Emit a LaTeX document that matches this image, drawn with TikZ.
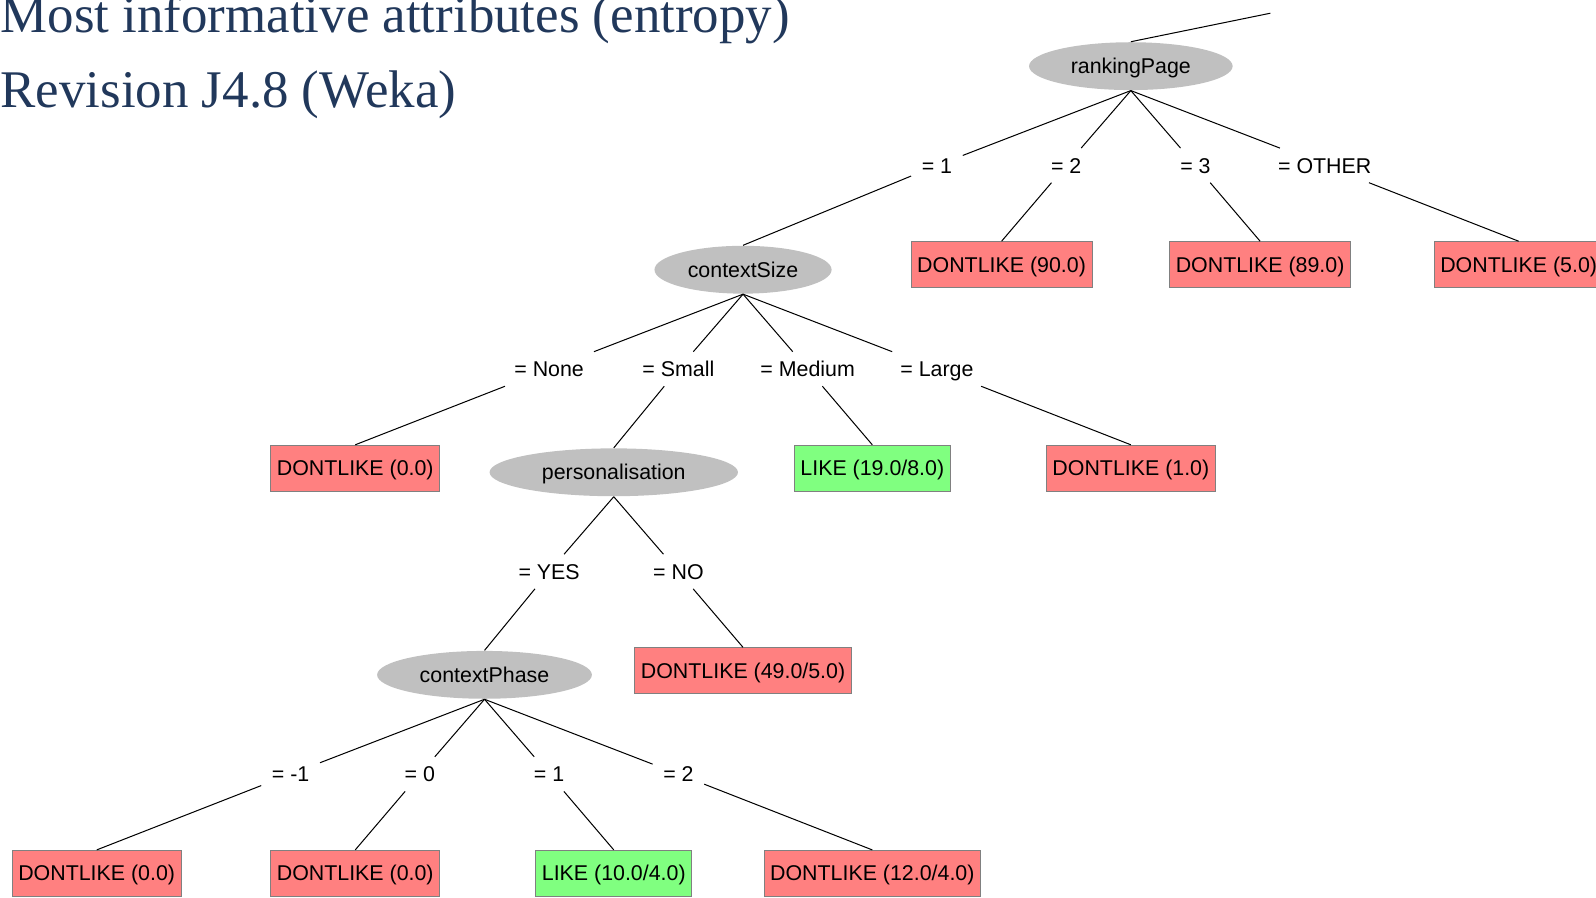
\documentclass[tikz,border=0pt]{standalone}
\usepackage{fontspec}
\setmainfont{Liberation Sans}
\newfontfamily\titlefont{Liberation Serif}
\usetikzlibrary{positioning,calc,shapes.geometric}
\definecolor{splitgray}{RGB}{192,192,192}
\definecolor{dontlikered}{RGB}{255,128,128}
\definecolor{likegreen}{RGB}{128,255,128}
\definecolor{titleblue}{RGB}{33,56,91}
\tikzset{
    tree text/.style = {
        font = \fontsize{21}{25}\selectfont,
        text height = 15pt,
        text depth = 0pt,
        },
    split node/.style = {
        tree text,
        ellipse,
        fill = splitgray,
        inner sep = 0pt,
        minimum height = 47pt,
        minimum width = #1,
        },
    leaf node/.style = {
        tree text,
        draw = gray,
        inner xsep = 6pt,
        minimum height = 45pt,
        },
    dontlike leaf/.style = {
        leaf node,
        fill = dontlikered,
        },
    like leaf/.style = {
        leaf node,
        fill = likegreen,
        },
    branch label/.style = {
        tree text,
        inner xsep = 10pt,
        inner ysep = 9pt,
        },
    title text/.style = {
        font = \titlefont\fontsize{52}{60}\selectfont,
        text = titleblue,
        anchor = base west,
        inner sep = 0pt,
        },
}

\begin{document}
\begin{tikzpicture}[x=1pt, y=-1pt, line width=1pt, on grid]
            \useasboundingbox (0,0) rectangle (1568,882);

            \node[title text] (title1) at (0,32) {Most informative attributes (entropy)};
            \node[title text] (title2) at (0,106) {Revision J4.8 (Weka)};

            % rankingPage
            \node[split node=200pt] (rank) at (1111,65) {rankingPage};
            \coordinate (up) at (1248,13);
            \node[split node=174pt, below left=200pt and 381pt of rank] (csize) {contextSize};
            \node[dontlike leaf, below left=195pt and 127pt of rank] (r2) {DONTLIKE (90.0)};
            \node[dontlike leaf, below right=195pt and 127pt of rank] (r3) {DONTLIKE (89.0)};
            \node[dontlike leaf, below right=195pt and 381pt of rank] (r4) {DONTLIKE (5.0)};

            % contextSize
            \node[dontlike leaf, below left=195pt and 381pt of csize] (s1) {DONTLIKE (0.0)};
            \node[split node=244pt, below left=199pt and 127pt of csize] (pers) {personalisation};
            \node[like leaf, below right=195pt and 127pt of csize] (s3) {LIKE (19.0/8.0)};
            \node[dontlike leaf, below right=195pt and 381pt of csize] (s4) {DONTLIKE (1.0)};

            % personalisation
            \node[split node=211pt, below left=199pt and 127pt of pers] (cphase) {contextPhase};
            \node[dontlike leaf, below right=195pt and 127pt of pers] (p2) {DONTLIKE (49.0/5.0)};

            % contextPhase
            \node[dontlike leaf, below left=195pt and 381pt of cphase] (c1) {DONTLIKE (0.0)};
            \node[dontlike leaf, below left=195pt and 127pt of cphase] (c2) {DONTLIKE (0.0)};
            \node[like leaf, below right=195pt and 127pt of cphase] (c3) {LIKE (10.0/4.0)};
            \node[dontlike leaf, below right=195pt and 381pt of cphase] (c4) {DONTLIKE (12.0/4.0)};

            % branch labels
            \node[branch label, yshift=2.5pt] (b-r1) at ($(rank)!0.5!(csize)$) {= 1};
            \node[branch label] (b-r2) at ($(rank)!0.5!(r2)$) {= 2};
            \node[branch label] (b-r3) at ($(rank)!0.5!(r3)$) {= 3};
            \node[branch label] (b-r4) at ($(rank)!0.5!(r4)$) {= OTHER};
            \node[branch label] (b-s1) at ($(csize)!0.5!(s1)$) {= None};
            \node[branch label, yshift=2pt] (b-s2) at ($(csize)!0.5!(pers)$) {= Small};
            \node[branch label] (b-s3) at ($(csize)!0.5!(s3)$) {= Medium};
            \node[branch label] (b-s4) at ($(csize)!0.5!(s4)$) {= Large};
            \node[branch label, yshift=2pt] (b-p1) at ($(pers)!0.5!(cphase)$) {= YES};
            \node[branch label] (b-p2) at ($(pers)!0.5!(p2)$) {= NO};
            \node[branch label] (b-c1) at ($(cphase)!0.5!(c1)$) {= -1};
            \node[branch label] (b-c2) at ($(cphase)!0.5!(c2)$) {= 0};
            \node[branch label] (b-c3) at ($(cphase)!0.5!(c3)$) {= 1};
            \node[branch label] (b-c4) at ($(cphase)!0.5!(c4)$) {= 2};

            \path (rank.north) edge (up);
            \path (rank.south) edge (b-r1) (b-r1) edge (csize.north);
            \path (rank.south) edge (b-r2) (b-r2) edge (r2.north);
            \path (rank.south) edge (b-r3) (b-r3) edge (r3.north);
            \path (rank.south) edge (b-r4) (b-r4) edge (r4.north);
            \path (csize.south) edge (b-s1) (b-s1) edge (s1.north);
            \path (csize.south) edge (b-s2) (b-s2) edge (pers.north);
            \path (csize.south) edge (b-s3) (b-s3) edge (s3.north);
            \path (csize.south) edge (b-s4) (b-s4) edge (s4.north);
            \path (pers.south) edge (b-p1) (b-p1) edge (cphase.north);
            \path (pers.south) edge (b-p2) (b-p2) edge (p2.north);
            \path (cphase.south) edge (b-c1) (b-c1) edge (c1.north);
            \path (cphase.south) edge (b-c2) (b-c2) edge (c2.north);
            \path (cphase.south) edge (b-c3) (b-c3) edge (c3.north);
            \path (cphase.south) edge (b-c4) (b-c4) edge (c4.north);
        \end{tikzpicture}
\end{document}
